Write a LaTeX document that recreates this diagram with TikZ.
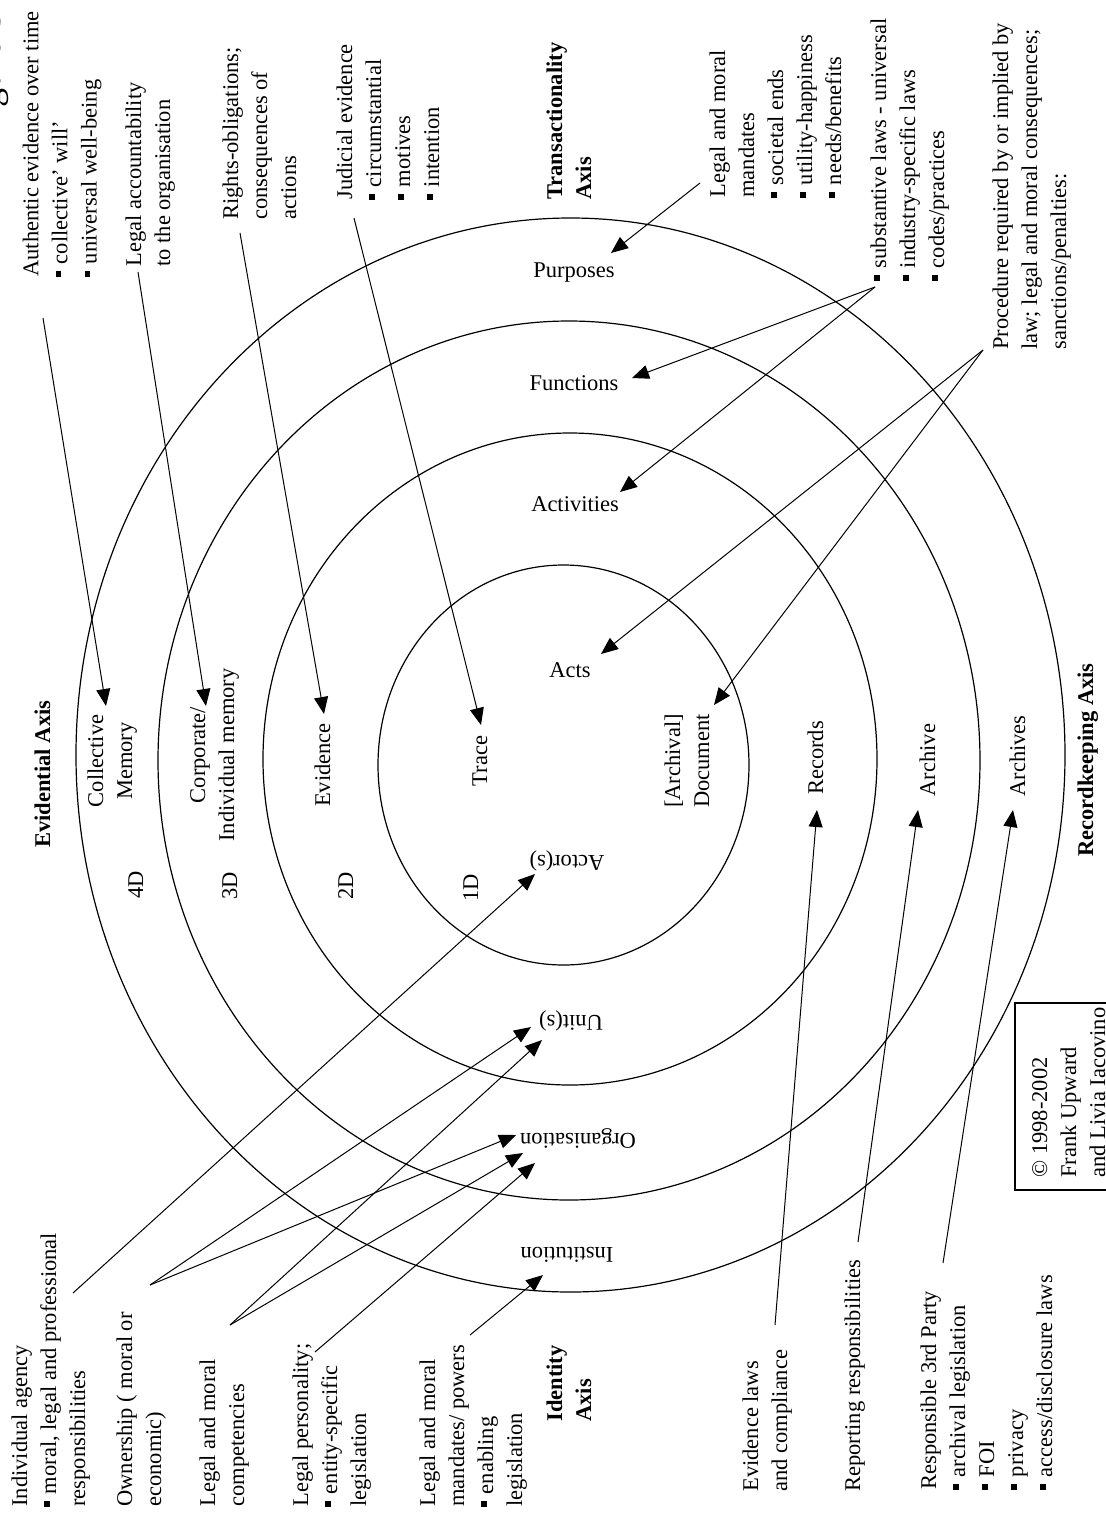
\documentclass[tikz,border=0pt]{standalone}
\usepackage{fontspec}
\setmainfont{Liberation Serif}
\usetikzlibrary{arrows.meta}
\newcommand\bu{\rule[3pt]{2.8pt}{2.8pt}\hspace{3.5pt}}
\newcommand\lblk[1]{\begin{tabular}[t]{@{}l@{}}#1\end{tabular}}
\newcommand\cblk[1]{\begin{tabular}[t]{@{}c@{}}#1\end{tabular}}
\begin{document}
\begin{tikzpicture}[x=0.5pt,y=-0.5pt,
  lbl/.style={font=\fontsize{11.25}{14.5}\selectfont, inner sep=0pt},
  bld/.style={font=\fontsize{11.25}{14.5}\selectfont\bfseries},
  upl/.style={lbl, rotate=90, anchor=base west},
  upc/.style={lbl, rotate=90, anchor=base},
  flip/.style={lbl, rotate=180, anchor=base},
  hz/.style={lbl, anchor=base},
  ring/.style={line width=0.6pt},
  arr/.style={line width=0.5pt, -{Triangle[length=8.5pt,width=7pt]}}]
\useasboundingbox[fill=white] (0,0) rectangle (1106,1522);
% rings
\draw[ring] (563.5,765) ellipse [x radius=185.5, y radius=200];
\draw[ring] (570,759) ellipse [x radius=307, y radius=326];
\draw[ring] (569,760.5) ellipse [x radius=411, y radius=439.5];
\draw[ring] (570.5,755) ellipse [x radius=494.5, y radius=537];
% header (cut off by the page edge, as in the reference)
\node[upl, font=\fontsize{19}{22}\selectfont] (fig) at (1,140) {Figure 3};
% top texts
\node[upl] (auth) at (38.5,277) {\lblk{Authentic evidence over time\\ \bu collective’ will’\\ \bu universal well-being}};
\node[upl] (legacc) at (141,267) {\lblk{Legal accountability\\ to the organisation}};
\node[upl] (rights) at (238,220) {\lblk{Rights-obligations;\\ consequences of\\ actions}};
\node[upl] (judic) at (352,200) {\lblk{Judicial evidence\\ \bu circumstantial\\ \bu motives\\ \bu intention}};
\node[upl, bld] (transax) at (562,200) {\lblk{Transactionality\\ Axis}};
\node[upl] (legmand) at (725,198) {\lblk{Legal and moral\\ mandates\\ \bu societal ends\\ \bu utility-happiness\\ \bu needs/benefits}};
\node[upl] (subst) at (886,281) {\lblk{\bu substantive laws - universal\\ \bu industry-specific laws\\ \bu codes/practices}};
\node[upl] (proc) at (1008,350) {\lblk{Procedure required by or implied by\\ law; legal and moral consequences;\\ sanctions/penalties:}};
% evidential axis labels
\node[upl, bld] (evax) at (50,848) {Evidential Axis};
\node[upc] (colmem) at (103,761) {\cblk{Collective\\ Memory}};
\node[upc] (d4) at (143,885) {4D};
\node[upc] (corpmem) at (205,755) {\cblk{Corporate/\\ Individual memory}};
\node[upc] (d3) at (237,886) {3D};
\node[upc] (evid) at (330,765) {Evidence};
\node[upc] (d2) at (353,886) {2D};
\node[upc] (trace) at (487,761) {Trace};
\node[upc] (d1) at (478,888) {1D};
\node[upc] (archdoc) at (680,761) {\cblk{[Archival]\\ Document}};
\node[upc] (records) at (823,758) {Records};
\node[upc] (archive) at (935,760) {Archive};
\node[upc] (archives) at (1025,756) {Archives};
\node[upl, bld] (rkax) at (1093,857) {Recordkeeping Axis};
% transactional labels
\node[hz] (pur) at (574,277) {Purposes};
\node[hz] (fun) at (574,390) {Functions};
\node[hz] (act) at (575,511) {Activities};
\node[hz] (acts) at (570,677) {Acts};
% identity labels
\node[flip] (actor) at (567,855) {Actor(s)};
\node[flip] (unit) at (571,1015) {Unit(s)};
\node[flip] (org) at (578,1133) {Organisation};
\node[flip] (inst) at (567,1247) {Institution};
% bottom texts
\node[upl] (agency) at (27,1507) {\lblk{Individual agency\\ \bu moral, legal and professional\\ responsibilities}};
\node[upl] (owner) at (132,1507) {\lblk{Ownership ( moral or\\ economic)}};
\node[upl] (compet) at (215,1507) {\lblk{Legal and moral\\ competencies}};
\node[upl] (person) at (308,1507) {\lblk{Legal personality;\\ \bu entity-specific\\ legislation}};
\node[upl] (mandpow) at (435,1507) {\lblk{Legal and moral\\ mandates/ powers\\ \bu enabling\\ legislation}};
\node[upl, bld] (idax) at (562,1422) {\lblk{Identity\\ Axis}};
\node[upl] (evlaws) at (758,1492) {\lblk{Evidence laws\\ and compliance}};
\node[upl] (report) at (860,1492) {Reporting responsibilities};
\node[upl] (third) at (936,1490) {\lblk{Responsible 3rd Party\\ \bu archival legislation\\ \bu FOI\\ \bu privacy\\ \bu access/disclosure laws}};
\draw[line width=0.6pt] (1015,1003) rectangle (1112,1190);
\node[upl] (copy) at (1047,1178) {\lblk{© 1998-2002\\ Frank Upward\\ and Livia Iacovino}};
% connector ends
\coordinate (sAuth) at (43,318);   \coordinate (eAuth) at (106,706);
\coordinate (sLeg) at (138,272);   \coordinate (eLeg) at (206,706);
\coordinate (sRig) at (240,233);   \coordinate (eRig) at (324,714);
\coordinate (sJud) at (354,218);   \coordinate (eJud) at (481,725);
\coordinate (sMan) at (700,183);   \coordinate (ePur) at (611,253);
\coordinate (sSub) at (875,287);   \coordinate (eFun) at (632,378);
\coordinate (eAct) at (620,492);
\coordinate (sPro) at (983,350);   \coordinate (eActs) at (601,654);
\coordinate (eDoc) at (714,705);
\coordinate (sAge) at (73,1293);   \coordinate (eActor) at (535,874);
\coordinate (sOwn) at (150,1285);  \coordinate (eUnitA) at (531,1027);
\coordinate (eOrgA) at (516,1135);
\coordinate (sCom) at (230,1325);  \coordinate (eUnitB) at (542,1040);
\coordinate (eOrgB) at (523,1153);
\coordinate (sPer) at (315,1352);  \coordinate (eOrgC) at (535,1163);
\coordinate (sMP) at (470,1335);   \coordinate (eInst) at (543,1275);
\coordinate (sEvl) at (775,1325);  \coordinate (eRec) at (817,810);
\coordinate (sRep) at (858,1242);  \coordinate (eArc) at (918,810);
\coordinate (sThi) at (943,1263);  \coordinate (eArcs) at (1013,810);
% connectors
\draw[arr] (sAuth) -- (eAuth);
\draw[arr] (sLeg) -- (eLeg);
\draw[arr] (sRig) -- (eRig);
\draw[arr] (sJud) -- (eJud);
\draw[arr] (sMan) -- (ePur);
\draw[arr] (sSub) -- (eFun);
\draw[arr] (sSub) -- (eAct);
\draw[arr] (sPro) -- (eActs);
\draw[arr] (sPro) -- (eDoc);
\draw[arr] (sAge) -- (eActor);
\draw[arr] (sOwn) -- (eUnitA);
\draw[arr] (sOwn) -- (eOrgA);
\draw[arr] (sCom) -- (eUnitB);
\draw[arr] (sCom) -- (eOrgB);
\draw[arr] (sPer) -- (eOrgC);
\draw[arr] (sMP) -- (eInst);
\draw[arr] (sEvl) -- (eRec);
\draw[arr] (sRep) -- (eArc);
\draw[arr] (sThi) -- (eArcs);
\end{tikzpicture}
\end{document}
